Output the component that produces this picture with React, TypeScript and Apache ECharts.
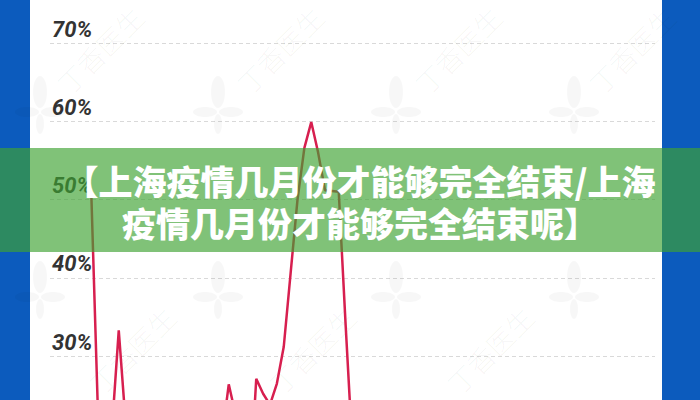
import React, { useEffect, useRef } from "react";
import * as echarts from "echarts";

// ---- data ----
const categories: string[] = Array.from({ length: 89 }, (_, i) => `第${i + 1}天`);
const positiveRate: (number | null)[] = [
  null, null, null, null, null, null,
  51, 22, 17, 20.5, 33.3, 21.5, 17, 15, 16, 14, 15, 13, 14, 12, 13, 12,
  14, 12, 13, 19.5, 26.4, 22.5, 13, 12, 27.1, 25.2, 23.8, 26.5, 31.2, 40.6,
  50, 56.6, 59.9, 56, 51.2, 51.1, 51, 34, 18,
];
const yMin = 0;
const yMax = 70;
const yStep = 10;
const visibleLabelMin = 30; // labels below this lie outside the picture
const titleLines = ["【上海疫情几月份才能够完全结束/上海", "疫情几月份才能够完全结束呢】"];
const watermarkText = "丁香医生";
const watermarkTopX = [100, 280, 458, 632];
const watermarkBottomX = [132, 312, 490];
const leafX = [40, 218, 396, 574];
const leafY = [100, 285];

export default function App() {
  const ref = useRef<HTMLDivElement>(null);

  useEffect(() => {
    if (!ref.current) return;
    const chart = echarts.init(ref.current, undefined, { renderer: "svg" });

    const graphics: any[] = [];
    // blue side strips
    graphics.push({ type: "rect", shape: { x: 0, y: 0, width: 30, height: 620 }, style: { fill: "#0c5bbd" }, z: 1, silent: true });
    graphics.push({ type: "rect", shape: { x: 662, y: 0, width: 38, height: 620 }, style: { fill: "#0c5bbd" }, z: 1, silent: true });
    // faint watermarks
    const wm = (x: number, y: number) => ({
      type: "text",
      x,
      y,
      rotation: Math.PI / 4,
      z: 1,
      silent: true,
      style: {
        text: watermarkText,
        fill: "rgba(0,0,0,0.045)",
        font: '300 27px "Noto Sans CJK SC"',
        align: "center",
        verticalAlign: "middle",
      },
    });
    watermarkTopX.forEach((x) => graphics.push(wm(x, 50)));
    watermarkBottomX.forEach((x) => graphics.push(wm(x, 350)));
    leafY.forEach((ly) =>
      leafX.forEach((lx) => {
        graphics.push({ type: "ellipse", shape: { cx: lx, cy: ly - 8, rx: 7, ry: 16 }, style: { fill: "rgba(0,0,0,0.03)" }, z: 1, silent: true });
        graphics.push({ type: "ellipse", shape: { cx: lx - 13, cy: ly + 12, rx: 12, ry: 5 }, style: { fill: "rgba(0,0,0,0.03)" }, z: 1, silent: true });
        graphics.push({ type: "ellipse", shape: { cx: lx + 13, cy: ly + 12, rx: 12, ry: 5 }, style: { fill: "rgba(0,0,0,0.03)" }, z: 1, silent: true });
        graphics.push({ type: "ellipse", shape: { cx: lx, cy: ly + 24, rx: 4, ry: 10 }, style: { fill: "rgba(0,0,0,0.03)" }, z: 1, silent: true });
      })
    );
    // translucent green banner over the chart
    graphics.push({ type: "rect", shape: { x: 0, y: 148, width: 700, height: 104 }, style: { fill: "rgba(62,163,50,0.66)" }, z: 100, silent: true });
    graphics.push({
      type: "text",
      x: 360,
      y: 201,
      z: 101,
      silent: true,
      style: {
        text: titleLines.join("\n"),
        fill: "#ffffff",
        font: '900 34px "Noto Sans CJK SC"',
        lineHeight: 42,
        align: "center",
        verticalAlign: "middle",
      },
    });

    chart.setOption({
      animation: false,
      backgroundColor: "#ffffff",
      grid: { left: 50, right: 45, top: 43, bottom: 29, containLabel: false },
      xAxis: {
        type: "category",
        data: categories,
        boundaryGap: false,
        show: false,
      },
      yAxis: {
        type: "value",
        min: yMin,
        max: yMax,
        interval: yStep,
        axisLine: { show: false },
        axisTick: { show: false },
        axisLabel: {
          inside: true,
          margin: 2,
          align: "left",
          verticalAlign: "bottom",
          padding: [0, 0, 3, 0],
          formatter: (v: number) => (v >= visibleLabelMin ? `${v}%` : ""),
          color: "#333333",
          fontFamily: "Roboto",
          fontSize: 22,
          fontWeight: "bold",
          fontStyle: "italic",
        },
        splitLine: { lineStyle: { color: "#d9d9d9", width: 1, type: [4, 3] } },
      },
      series: [
        {
          type: "line",
          data: positiveRate,
          showSymbol: false,
          connectNulls: false,
          lineStyle: { color: "#d71f4f", width: 2.5 },
          itemStyle: { color: "#d71f4f" },
          z: 5,
        },
      ],
      graphic: graphics,
    });

    return () => chart.dispose();
  }, []);

  return (
    <div style={{ position: "fixed", left: 0, top: 0, width: 700, height: 400, overflow: "hidden", background: "#fff" }}>
      <div ref={ref} style={{ width: 700, height: 620 }} />
    </div>
  );
}
